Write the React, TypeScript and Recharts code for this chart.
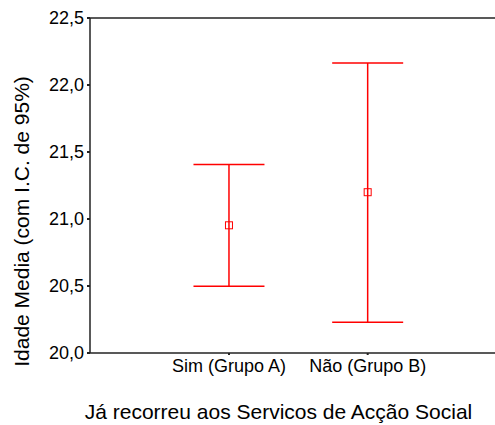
import { ComposedChart, Scatter, ErrorBar, XAxis, YAxis, ReferenceLine } from 'recharts'

const groups = ['Sim (Grupo A)', 'Não (Grupo B)']
const means = [20.953, 21.2]
const lower = [20.498, 20.229]
const upper = [21.406, 22.164]
const yTicks = [20, 20.5, 21, 21.5, 22, 22.5]

const data = groups.map((g, i) => ({
  x: i,
  name: g,
  mean: means[i],
  err: [means[i] - lower[i], upper[i] - means[i]],
}))

const font = 'Liberation Sans, Arial, sans-serif'
const fmt = (v: number) => v.toFixed(1).replace('.', ',')

const MeanBox = (props: any) => {
  const { cx, cy } = props
  return <rect x={cx - 3.5} y={cy - 3.5} width={7} height={7} fill="none" stroke="#ff0000" strokeWidth={1} />
}

export default function App() {
  return (
    <div style={{ position: 'absolute', left: 0, top: 0, background: '#fff', fontFamily: font }}>
      <ComposedChart width={495} height={425} data={data} margin={{ top: 18, right: 0, bottom: 0, left: 0 }}>
        <XAxis
          type="number"
          dataKey="x"
          domain={[-1.002, 1.918]}
          ticks={[0, 1]}
          allowDataOverflow
          tickFormatter={(i: number) => groups[i]}
          tick={{ fontSize: 18, fill: '#000', fontFamily: font }}
          tickSize={2}
          tickMargin={4}
          height={72}
          axisLine={{ stroke: '#222', strokeWidth: 1.5 }}
          tickLine={{ stroke: '#222', strokeWidth: 2 }}
          label={{ value: 'Já recorreu aos Servicos de Acção Social', position: 'insideBottom', offset: 6, dx: -14, fontSize: 21, fill: '#000', fontFamily: font }}
        />
        <YAxis
          type="number"
          domain={[20, 22.5]}
          ticks={yTicks}
          allowDataOverflow
          tickFormatter={fmt}
          width={90}
          tick={{ fontSize: 18, fill: '#000', fontFamily: font }}
          tickSize={3}
          tickMargin={3}
          axisLine={{ stroke: '#222', strokeWidth: 1.5 }}
          tickLine={{ stroke: '#222', strokeWidth: 2 }}
          label={{ value: 'Idade Media (com I.C. de 95%)', angle: -90, position: 'center', dx: -23, dy: 36, fontSize: 21, fill: '#000', fontFamily: font }}
        />
        <ReferenceLine y={22.5} stroke="#222" strokeWidth={1.5} />
        <Scatter dataKey="mean" shape={MeanBox} isAnimationActive={false}>
          <ErrorBar dataKey="err" direction="y" width={35.5} stroke="#ff0000" strokeWidth={1.5} isAnimationActive={false} />
        </Scatter>
      </ComposedChart>
    </div>
  )
}
